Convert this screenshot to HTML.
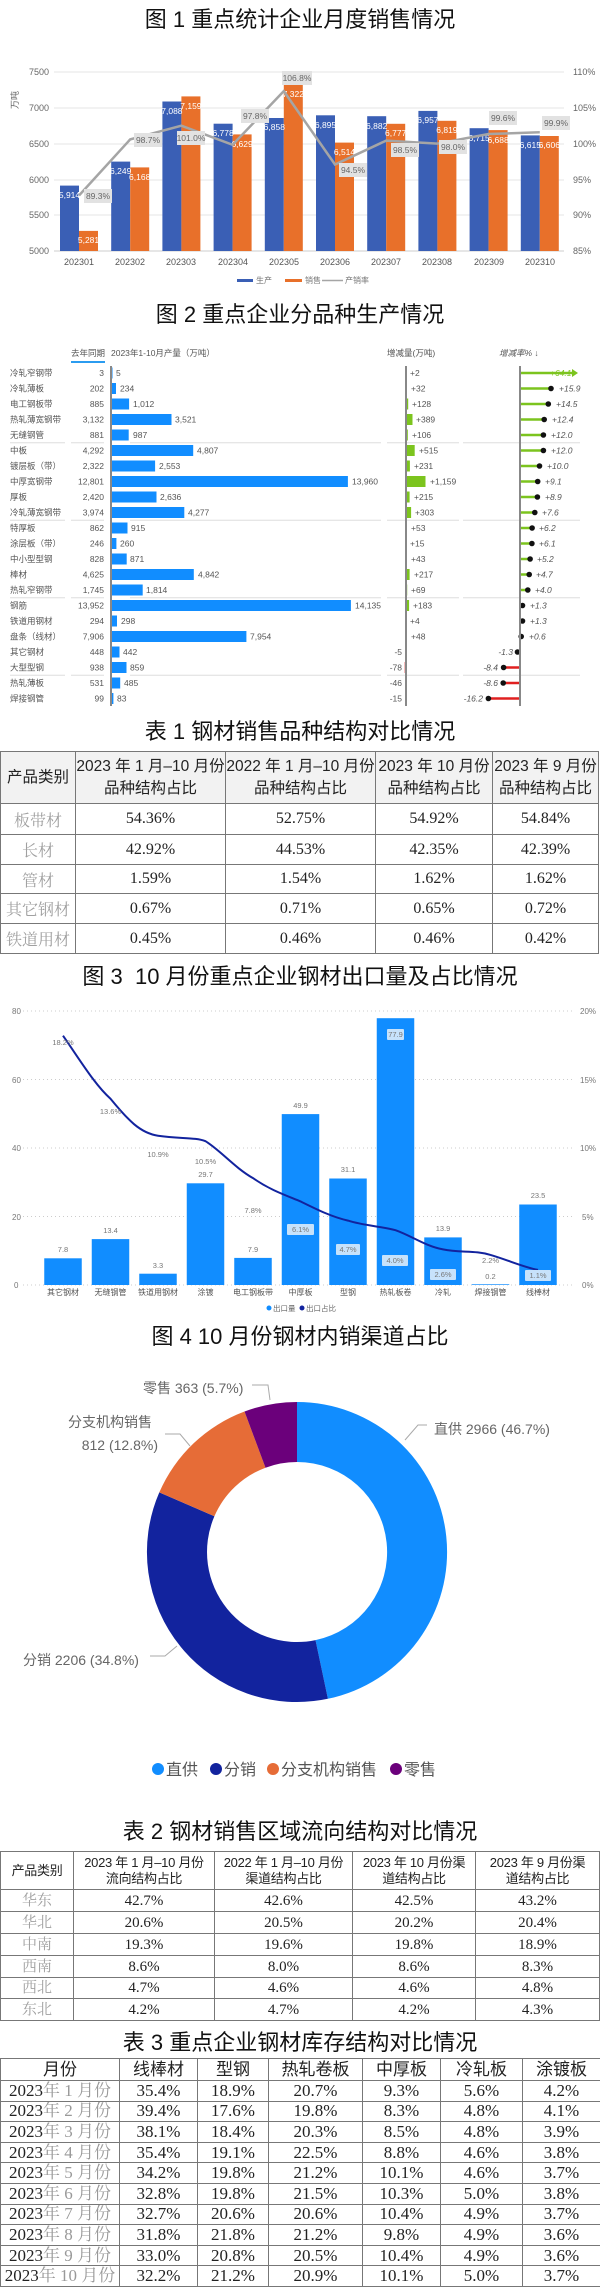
<!DOCTYPE html>
<html><head><meta charset="utf-8"><style>
*{margin:0;padding:0;box-sizing:border-box}
body{width:600px;height:2289px;position:relative;background:#fff;font-family:"Liberation Sans","Noto Sans CJK SC",sans-serif;overflow:hidden}
.t{position:absolute;left:0;width:600px;text-align:center;font-size:22px;color:#111;line-height:26px}
svg{position:absolute;left:0;top:0}
table{position:absolute;border-collapse:collapse;table-layout:fixed}
td{border:1px solid #777;text-align:center;padding:0;overflow:hidden;white-space:nowrap}
.tb1 td{font-family:"Liberation Serif","Noto Serif CJK SC",serif;font-size:16px;color:#222}
.tb1 tr:first-child td{background:#f2f2f2;font-family:"Liberation Sans","Noto Sans CJK SC",sans-serif;font-size:15.5px;line-height:22px;white-space:normal}
.g{color:#a0a0a0!important}
.tb2 td{font-family:"Liberation Serif","Noto Serif CJK SC",serif;font-size:15px;color:#222;line-height:18px}
.tb2 tr:first-child td{font-family:"Liberation Sans","Noto Sans CJK SC",sans-serif;font-size:13px;line-height:16px;white-space:nowrap;letter-spacing:-0.3px}
.tb3 td{font-family:"Liberation Serif","Noto Serif CJK SC",serif;font-size:17px;color:#222;line-height:18px}
.tb3 tr:first-child td{font-family:"Liberation Sans","Noto Sans CJK SC",sans-serif;font-size:17px}
.tb3 span{color:#999}
</style></head><body>
<div class="t" style="top:7px">图 1 重点统计企业月度销售情况</div>
<div class="t" style="top:302px">图 2 重点企业分品种生产情况</div>
<div class="t" style="top:719px">表 1 钢材销售品种结构对比情况</div>
<div class="t" style="top:964px">图 3&nbsp; 10 月份重点企业钢材出口量及占比情况</div>
<div class="t" style="top:1324px">图 4 10 月份钢材内销渠道占比</div>
<div class="t" style="top:1819px">表 2 钢材销售区域流向结构对比情况</div>
<div class="t" style="top:2030px">表 3 重点企业钢材库存结构对比情况</div>

<svg width="600" height="2289" viewBox="0 0 600 2289" font-family="Liberation Sans, Noto Sans CJK SC, sans-serif">
<!-- FIG 1 -->
<g stroke="#e6e6e6" stroke-width="1">
<line x1="54" y1="72" x2="564" y2="72"/><line x1="54" y1="108" x2="564" y2="108"/><line x1="54" y1="144" x2="564" y2="144"/><line x1="54" y1="180" x2="564" y2="180"/><line x1="54" y1="215" x2="564" y2="215"/></g>
<line x1="54" y1="251" x2="564" y2="251" stroke="#ccc"/>
<g font-size="9" fill="#666">
<text x="29" y="75">7500</text><text x="29" y="111">7000</text><text x="29" y="147">6500</text><text x="29" y="183">6000</text><text x="29" y="218">5500</text><text x="29" y="254">5000</text>
<text x="573" y="75">110%</text><text x="573" y="111">105%</text><text x="573" y="147">100%</text><text x="573" y="183">95%</text><text x="573" y="218">90%</text><text x="573" y="254">85%</text>
<text x="18" y="100" transform="rotate(-90 18 100)" font-size="9" text-anchor="middle">万吨</text>
</g>
<g fill="#3a5fb5">
<rect x="60" y="185.6" width="19" height="65.4"/><rect x="111.2" y="161.6" width="19" height="89.4"/><rect x="162.4" y="101.5" width="19" height="149.5"/><rect x="213.6" y="123.7" width="19" height="127.3"/><rect x="264.8" y="118" width="19" height="133"/><rect x="316" y="115.3" width="19" height="135.7"/><rect x="367.2" y="116.2" width="19" height="134.8"/><rect x="418.4" y="110.9" width="19" height="140.1"/><rect x="469.6" y="128.2" width="19" height="122.8"/><rect x="520.8" y="135.4" width="19" height="115.6"/></g>
<g fill="#e8702a">
<rect x="79" y="230.9" width="19" height="20.1"/><rect x="130.2" y="167.4" width="19" height="83.6"/><rect x="181.4" y="96.4" width="19" height="154.6"/><rect x="232.6" y="134.4" width="19" height="116.6"/><rect x="283.8" y="84.7" width="19" height="166.3"/><rect x="335" y="142.6" width="19" height="108.4"/><rect x="386.2" y="123.8" width="19" height="127.2"/><rect x="437.4" y="120.8" width="19" height="130.2"/><rect x="488.6" y="130.1" width="19" height="120.9"/><rect x="539.8" y="136" width="19" height="115"/></g>
<g font-size="8.5" fill="#fff" text-anchor="middle">
<text x="69.5" y="198">5,914</text><text x="120.7" y="174">6,249</text><text x="171.9" y="114">7,088</text><text x="223.1" y="136">6,778</text><text x="274.3" y="130">6,858</text><text x="325.5" y="128">6,895</text><text x="376.7" y="129">6,882</text><text x="427.9" y="123">6,957</text><text x="479.1" y="141">6,715</text><text x="530.3" y="148">6,615</text>
<text x="88.5" y="243">5,281</text><text x="139.7" y="180">6,168</text><text x="190.9" y="109">7,159</text><text x="242.1" y="147">6,629</text><text x="293.3" y="97">7,322</text><text x="344.5" y="155">6,514</text><text x="395.7" y="136">6,777</text><text x="446.9" y="133">6,819</text><text x="498.1" y="143">6,688</text><text x="549.3" y="148">6,606</text></g>
<polyline points="79,195.5 130.2,139.4 181.4,125.7 232.6,144.8 283.8,91.1 335,164.5 386.2,140.6 437.4,143.6 488.6,134 539.8,132.3" fill="none" stroke="#a5a5a5" stroke-width="2.5"/>
<g fill="#e2e2e2"><rect x="84" y="189" width="28" height="14"/><rect x="134" y="133" width="28" height="14"/><rect x="177" y="131" width="28" height="14"/><rect x="241" y="109" width="28" height="14"/><rect x="282" y="71" width="30" height="14"/><rect x="339" y="163" width="28" height="14"/><rect x="391" y="143" width="28" height="14"/><rect x="439" y="140" width="28" height="14"/><rect x="489" y="111" width="28" height="14"/><rect x="542" y="116" width="28" height="14"/></g>
<g font-size="8.5" fill="#666" text-anchor="middle">
<text x="98" y="199">89.3%</text><text x="148" y="143">98.7%</text><text x="191" y="141">101.0%</text><text x="255" y="119">97.8%</text><text x="297" y="81">106.8%</text><text x="353" y="173">94.5%</text><text x="405" y="153">98.5%</text><text x="453" y="150">98.0%</text><text x="503" y="121">99.6%</text><text x="556" y="126">99.9%</text></g>
<g font-size="9" fill="#555" text-anchor="middle">
<text x="79" y="265">202301</text><text x="130" y="265">202302</text><text x="181" y="265">202303</text><text x="233" y="265">202304</text><text x="284" y="265">202305</text><text x="335" y="265">202306</text><text x="386" y="265">202307</text><text x="437" y="265">202308</text><text x="489" y="265">202309</text><text x="540" y="265">202310</text></g>
<rect x="237" y="279" width="16" height="3" fill="#3a5fb5"/><text x="256" y="283" font-size="8" fill="#777">生产</text>
<rect x="285" y="279" width="17" height="3" fill="#e8702a"/><text x="305" y="283" font-size="8" fill="#777">销售</text>
<line x1="322" y1="280.5" x2="343" y2="280.5" stroke="#a5a5a5" stroke-width="1.5"/><text x="345" y="283" font-size="8" fill="#777">产销率</text>

<!-- FIG 2 -->
<g font-size="8.5" fill="#555">
<text x="71" y="356">去年同期</text><text x="111" y="356">2023年1-10月产量（万吨）</text><text x="387" y="356">增减量(万吨)</text><text x="499" y="356" font-style="italic">增减率% ↓</text></g>
<rect x="71" y="361" width="34" height="2" fill="#2b9cf0"/>
<g stroke="#ddd" stroke-width="1">
<line x1="10" y1="442.75" x2="65" y2="442.75"/><line x1="71" y1="442.75" x2="104" y2="442.75"/><line x1="130" y1="442.75" x2="381" y2="442.75"/><line x1="387" y1="442.75" x2="459" y2="442.75"/><line x1="463" y1="442.75" x2="580" y2="442.75"/>
<line x1="10" y1="520.25" x2="65" y2="520.25"/><line x1="71" y1="520.25" x2="104" y2="520.25"/><line x1="130" y1="520.25" x2="381" y2="520.25"/><line x1="387" y1="520.25" x2="459" y2="520.25"/><line x1="463" y1="520.25" x2="580" y2="520.25"/>
<line x1="10" y1="597.75" x2="65" y2="597.75"/><line x1="71" y1="597.75" x2="104" y2="597.75"/><line x1="130" y1="597.75" x2="381" y2="597.75"/><line x1="387" y1="597.75" x2="459" y2="597.75"/><line x1="463" y1="597.75" x2="580" y2="597.75"/>
<line x1="10" y1="675.25" x2="65" y2="675.25"/><line x1="71" y1="675.25" x2="104" y2="675.25"/><line x1="130" y1="675.25" x2="381" y2="675.25"/><line x1="387" y1="675.25" x2="459" y2="675.25"/><line x1="463" y1="675.25" x2="580" y2="675.25"/></g>
<g fill="#118dff">
<rect x="112" y="367.5" width="0.5" height="11"/><rect x="112" y="383" width="4" height="11"/><rect x="112" y="398.5" width="17.1" height="11"/><rect x="112" y="414" width="59.5" height="11"/><rect x="112" y="429.5" width="16.7" height="11"/><rect x="112" y="445" width="81.2" height="11"/><rect x="112" y="460.5" width="43.1" height="11"/><rect x="112" y="476" width="235.9" height="11"/><rect x="112" y="491.5" width="44.5" height="11"/><rect x="112" y="507" width="72.3" height="11"/><rect x="112" y="522.5" width="15.5" height="11"/><rect x="112" y="538" width="4.4" height="11"/><rect x="112" y="553.5" width="14.7" height="11"/><rect x="112" y="569" width="81.8" height="11"/><rect x="112" y="584.5" width="30.7" height="11"/><rect x="112" y="600" width="238.9" height="11"/><rect x="112" y="615.5" width="5" height="11"/><rect x="112" y="631" width="134.4" height="11"/><rect x="112" y="646.5" width="7.5" height="11"/><rect x="112" y="662" width="14.5" height="11"/><rect x="112" y="677.5" width="8.2" height="11"/><rect x="112" y="693" width="1.4" height="11"/></g>
<g fill="#7cc41e">
<rect x="406" y="383" width="0.6" height="11"/><rect x="406" y="398.5" width="2.2" height="11"/><rect x="406" y="414" width="6.5" height="11"/><rect x="406" y="429.5" width="1.8" height="11"/><rect x="406" y="445" width="8.7" height="11"/><rect x="406" y="460.5" width="3.9" height="11"/><rect x="406" y="476" width="19.5" height="11"/><rect x="406" y="491.5" width="3.6" height="11"/><rect x="406" y="507" width="5.1" height="11"/><rect x="406" y="522.5" width="0.9" height="11"/><rect x="406" y="553.5" width="0.7" height="11"/><rect x="406" y="569" width="3.6" height="11"/><rect x="406" y="584.5" width="1.2" height="11"/><rect x="406" y="600" width="3.1" height="11"/><rect x="406" y="631" width="0.8" height="11"/></g>
<g fill="#e02020"><rect x="404.7" y="662" width="1.3" height="11"/><rect x="405.2" y="677.5" width="0.8" height="11"/><rect x="405.7" y="693" width="0.3" height="11"/></g>
<g stroke="#7cc41e" stroke-width="2.5">
<line x1="520" y1="373" x2="572" y2="373"/><line x1="520" y1="388.5" x2="551" y2="388.5"/><line x1="520" y1="404" x2="548.3" y2="404"/><line x1="520" y1="419.5" x2="544.2" y2="419.5"/><line x1="520" y1="435" x2="543.4" y2="435"/><line x1="520" y1="450.5" x2="543.4" y2="450.5"/><line x1="520" y1="466" x2="539.5" y2="466"/><line x1="520" y1="481.5" x2="537.7" y2="481.5"/><line x1="520" y1="497" x2="537.4" y2="497"/><line x1="520" y1="512.5" x2="534.8" y2="512.5"/><line x1="520" y1="528" x2="532.1" y2="528"/><line x1="520" y1="543.5" x2="531.9" y2="543.5"/><line x1="520" y1="559" x2="530.1" y2="559"/><line x1="520" y1="574.5" x2="529.2" y2="574.5"/><line x1="520" y1="590" x2="527.8" y2="590"/></g>
<g stroke="#e02020" stroke-width="2.5"><line x1="503.6" y1="667.5" x2="520" y2="667.5"/><line x1="503.2" y1="683" x2="520" y2="683"/><line x1="488.4" y1="698.5" x2="520" y2="698.5"/></g>
<polygon points="572,369 578,373 572,377" fill="#7cc41e"/>
<g fill="#111">
<circle cx="551" cy="388.5" r="2.8"/><circle cx="548.3" cy="404" r="2.8"/><circle cx="544.2" cy="419.5" r="2.8"/><circle cx="543.4" cy="435" r="2.8"/><circle cx="543.4" cy="450.5" r="2.8"/><circle cx="539.5" cy="466" r="2.8"/><circle cx="537.7" cy="481.5" r="2.8"/><circle cx="537.4" cy="497" r="2.8"/><circle cx="534.8" cy="512.5" r="2.8"/><circle cx="532.1" cy="528" r="2.8"/><circle cx="531.9" cy="543.5" r="2.8"/><circle cx="530.1" cy="559" r="2.8"/><circle cx="529.2" cy="574.5" r="2.8"/><circle cx="527.8" cy="590" r="2.8"/><circle cx="522.5" cy="605.5" r="2.8"/><circle cx="522.5" cy="621" r="2.8"/><circle cx="521.2" cy="636.5" r="2.8"/><circle cx="517.5" cy="652" r="2.8"/><circle cx="503.6" cy="667.5" r="2.8"/><circle cx="503.2" cy="683" r="2.8"/><circle cx="488.4" cy="698.5" r="2.8"/></g>
<g stroke="#888" stroke-width="2"><line x1="111" y1="366" x2="111" y2="706"/><line x1="406" y1="366" x2="406" y2="706"/><line x1="520" y1="366" x2="520" y2="706"/></g>
<g font-size="8.5" fill="#555">
<text x="10" y="376">冷轧窄钢带</text><text x="10" y="391.5">冷轧薄板</text><text x="10" y="407">电工钢板带</text><text x="10" y="422.5">热轧薄宽钢带</text><text x="10" y="438">无缝钢管</text><text x="10" y="453.5">中板</text><text x="10" y="469">镀层板（带）</text><text x="10" y="484.5">中厚宽钢带</text><text x="10" y="500">厚板</text><text x="10" y="515.5">冷轧薄宽钢带</text><text x="10" y="531">特厚板</text><text x="10" y="546.5">涂层板（带）</text><text x="10" y="562">中小型型钢</text><text x="10" y="577.5">棒材</text><text x="10" y="593">热轧窄钢带</text><text x="10" y="608.5">钢筋</text><text x="10" y="624">铁道用钢材</text><text x="10" y="639.5">盘条（线材）</text><text x="10" y="655">其它钢材</text><text x="10" y="670.5">大型型钢</text><text x="10" y="686">热轧薄板</text><text x="10" y="701.5">焊接钢管</text></g>
<g font-size="8.5" fill="#555" text-anchor="end">
<text x="104" y="376">3</text><text x="104" y="391.5">202</text><text x="104" y="407">885</text><text x="104" y="422.5">3,132</text><text x="104" y="438">881</text><text x="104" y="453.5">4,292</text><text x="104" y="469">2,322</text><text x="104" y="484.5">12,801</text><text x="104" y="500">2,420</text><text x="104" y="515.5">3,974</text><text x="104" y="531">862</text><text x="104" y="546.5">246</text><text x="104" y="562">828</text><text x="104" y="577.5">4,625</text><text x="104" y="593">1,745</text><text x="104" y="608.5">13,952</text><text x="104" y="624">294</text><text x="104" y="639.5">7,906</text><text x="104" y="655">448</text><text x="104" y="670.5">938</text><text x="104" y="686">531</text><text x="104" y="701.5">99</text>
<text x="402" y="655">-5</text><text x="402" y="670.5">-78</text><text x="402" y="686">-46</text><text x="402" y="701.5">-15</text>
<text x="513" y="655" font-style="italic">-1.3</text><text x="498" y="670.5" font-style="italic">-8.4</text><text x="498" y="686" font-style="italic">-8.6</text><text x="483" y="701.5" font-style="italic">-16.2</text></g>
<g font-size="8.5" fill="#555">
<text x="116" y="376">5</text><text x="120" y="391.5">234</text><text x="133" y="407">1,012</text><text x="175" y="422.5">3,521</text><text x="133" y="438">987</text><text x="197" y="453.5">4,807</text><text x="159" y="469">2,553</text><text x="352" y="484.5">13,960</text><text x="160" y="500">2,636</text><text x="188" y="515.5">4,277</text><text x="131" y="531">915</text><text x="120" y="546.5">260</text><text x="130" y="562">871</text><text x="198" y="577.5">4,842</text><text x="146" y="593">1,814</text><text x="355" y="608.5">14,135</text><text x="121" y="624">298</text><text x="250" y="639.5">7,954</text><text x="123" y="655">442</text><text x="130" y="670.5">859</text><text x="124" y="686">485</text><text x="117" y="701.5">83</text>
<text x="410" y="376">+2</text><text x="411" y="391.5">+32</text><text x="412" y="407">+128</text><text x="416" y="422.5">+389</text><text x="412" y="438">+106</text><text x="419" y="453.5">+515</text><text x="414" y="469">+231</text><text x="430" y="484.5">+1,159</text><text x="414" y="500">+215</text><text x="415" y="515.5">+303</text><text x="411" y="531">+53</text><text x="410" y="546.5">+15</text><text x="411" y="562">+43</text><text x="414" y="577.5">+217</text><text x="411" y="593">+69</text><text x="413" y="608.5">+183</text><text x="410" y="624">+4</text><text x="411" y="639.5">+48</text></g>
<g font-size="8.5" fill="#555" font-style="italic">
<text x="550" y="376" fill="#7cc41e">+64.1</text><text x="559" y="391.5">+15.9</text><text x="556" y="407">+14.5</text><text x="552" y="422.5">+12.4</text><text x="551" y="438">+12.0</text><text x="551" y="453.5">+12.0</text><text x="547" y="469">+10.0</text><text x="545" y="484.5">+9.1</text><text x="545" y="500">+8.9</text><text x="542" y="515.5">+7.6</text><text x="539" y="531">+6.2</text><text x="539" y="546.5">+6.1</text><text x="537" y="562">+5.2</text><text x="536" y="577.5">+4.7</text><text x="535" y="593">+4.0</text><text x="530" y="608.5">+1.3</text><text x="530" y="624">+1.3</text><text x="529" y="639.5">+0.6</text></g>

<!-- FIG 3 -->
<g stroke="#ccc" stroke-dasharray="1,3"><line x1="23" y1="1011" x2="574" y2="1011"/><line x1="23" y1="1079.5" x2="574" y2="1079.5"/><line x1="23" y1="1148" x2="574" y2="1148"/><line x1="23" y1="1216.5" x2="574" y2="1216.5"/><line x1="23" y1="1285" x2="574" y2="1285"/></g>
<g font-size="8" fill="#777"><text x="12" y="1014">80</text><text x="12" y="1083">60</text><text x="12" y="1151">40</text><text x="12" y="1220">20</text><text x="14" y="1288">0</text>
<text x="580" y="1014">20%</text><text x="580" y="1083">15%</text><text x="580" y="1151">10%</text><text x="582" y="1220">5%</text><text x="582" y="1288">0%</text></g>
<g fill="#118dff">
<rect x="44.25" y="1258.3" width="37.5" height="26.7"/><rect x="91.75" y="1239.1" width="37.5" height="45.9"/><rect x="139.25" y="1273.7" width="37.5" height="11.3"/><rect x="186.75" y="1183.3" width="37.5" height="101.7"/><rect x="234.25" y="1257.9" width="37.5" height="27.1"/><rect x="281.75" y="1114.1" width="37.5" height="170.9"/><rect x="329.25" y="1178.5" width="37.5" height="106.5"/><rect x="376.75" y="1018.2" width="37.5" height="266.8"/><rect x="424.25" y="1237.4" width="37.5" height="47.6"/><rect x="471.75" y="1284.3" width="37.5" height="0.7"/><rect x="519.25" y="1204.5" width="37.5" height="80.5"/></g>
<path d="M63,1035.7 C80,1060 95,1085 110.5,1098.7 C128,1120 140,1133 158,1135.7 C180,1139 195,1137 205.5,1141.2 C220,1150 235,1168 253,1178.1 C270,1190 285,1195 300.5,1201.4 C318,1210 332,1217 348,1220.6 C365,1226 380,1226 395.5,1230.2 C412,1236 425,1246 443,1249.4 C460,1253 475,1250 490.5,1254.9 C508,1260 523,1267 538,1269.9" fill="none" stroke="#12239e" stroke-width="2"/>
<g fill="#c7e2fb"><rect x="387" y="1029" width="17" height="11" rx="1"/><rect x="287" y="1224" width="27" height="11" rx="1"/><rect x="336" y="1244" width="24" height="11" rx="1"/><rect x="382" y="1255" width="26" height="11" rx="1"/><rect x="430" y="1269" width="26" height="11" rx="1"/><rect x="525" y="1270" width="26" height="11" rx="1"/></g>
<g font-size="7.5" fill="#777" text-anchor="middle">
<text x="63" y="1252">7.8</text><text x="110.5" y="1233">13.4</text><text x="158" y="1268">3.3</text><text x="205.5" y="1177">29.7</text><text x="253" y="1252">7.9</text><text x="300.5" y="1108">49.9</text><text x="348" y="1172">31.1</text><text x="395.5" y="1037">77.9</text><text x="443" y="1231">13.9</text><text x="490.5" y="1279">0.2</text><text x="538" y="1198">23.5</text>
<text x="63" y="1045">18.2%</text><text x="110.5" y="1114">13.6%</text><text x="158" y="1157">10.9%</text><text x="205.5" y="1164">10.5%</text><text x="253" y="1213">7.8%</text><text x="300.5" y="1232">6.1%</text><text x="348" y="1252">4.7%</text><text x="395" y="1263">4.0%</text><text x="443" y="1277">2.6%</text><text x="490.5" y="1263">2.2%</text><text x="538" y="1278">1.1%</text></g>
<g font-size="8" fill="#555" text-anchor="middle"><text x="63" y="1295">其它钢材</text><text x="110.5" y="1295">无缝钢管</text><text x="158" y="1295">铁道用钢材</text><text x="205.5" y="1295">涂镀</text><text x="253" y="1295">电工钢板带</text><text x="300.5" y="1295">中厚板</text><text x="348" y="1295">型钢</text><text x="395.5" y="1295">热轧板卷</text><text x="443" y="1295">冷轧</text><text x="490.5" y="1295">焊接钢管</text><text x="538" y="1295">线棒材</text></g>
<circle cx="269" cy="1308" r="2.5" fill="#118dff"/><text x="273" y="1311" font-size="7.5" fill="#666">出口量</text><circle cx="302" cy="1308" r="2.5" fill="#12239e"/><text x="306" y="1311" font-size="7.5" fill="#666">出口占比</text>

<!-- FIG 4 -->
<path d="M297,1402 A150,150 0 0 1 327.9,1698.8 L315.5,1640.1 A90,90 0 0 0 297,1462 Z" fill="#118dff"/>
<path d="M327.9,1698.8 A150,150 0 0 1 159.3,1492.4 L214.4,1516.3 A90,90 0 0 0 315.5,1640.1 Z" fill="#12239e"/>
<path d="M159.3,1492.4 A150,150 0 0 1 244.5,1411.5 L265.5,1467.7 A90,90 0 0 0 214.4,1516.3 Z" fill="#e66c37"/>
<path d="M244.5,1411.5 A150,150 0 0 1 297,1402 L297,1462 A90,90 0 0 0 265.5,1467.7 Z" fill="#6b007b"/>
<g stroke="#aaa" fill="none" stroke-width="1"><polyline points="252,1385 268,1385 270,1400"/><polyline points="165,1434 180,1434 190,1446"/><polyline points="427,1425 418,1425 405,1440"/><polyline points="150,1656 165,1656 177,1646"/></g>
<g font-size="14" fill="#666">
<text x="143" y="1393">零售 363 (5.7%)</text><text x="68" y="1427">分支机构销售</text><text x="158" y="1450" text-anchor="end">812 (12.8%)</text><text x="434" y="1434">直供 2966 (46.7%)</text><text x="23" y="1665">分销 2206 (34.8%)</text></g>
<g font-size="16" fill="#555"><circle cx="158" cy="1769" r="6" fill="#118dff"/><text x="166" y="1775">直供</text><circle cx="216" cy="1769" r="6" fill="#12239e"/><text x="224" y="1775">分销</text><circle cx="273" cy="1769" r="6" fill="#e66c37"/><text x="281" y="1775">分支机构销售</text><circle cx="396" cy="1769" r="6" fill="#6b007b"/><text x="404" y="1775">零售</text></g>
</svg>

<table class="tb1" style="left:0;top:751px;width:598px">
<colgroup><col style="width:75px"><col style="width:150px"><col style="width:150px"><col style="width:117px"><col style="width:106px"></colgroup>
<tr style="height:52px"><td>产品类别</td><td>2023 年 1 月–10 月份<br>品种结构占比</td><td>2022 年 1 月–10 月份<br>品种结构占比</td><td>2023 年 10 月份<br>品种结构占比</td><td>2023 年 9 月份<br>品种结构占比</td></tr>
<tr style="height:31px"><td class="g">板带材</td><td>54.36%</td><td>52.75%</td><td>54.92%</td><td>54.84%</td></tr>
<tr style="height:30px"><td class="g">长材</td><td>42.92%</td><td>44.53%</td><td>42.35%</td><td>42.39%</td></tr>
<tr style="height:29px"><td class="g">管材</td><td>1.59%</td><td>1.54%</td><td>1.62%</td><td>1.62%</td></tr>
<tr style="height:30px"><td class="g">其它钢材</td><td>0.67%</td><td>0.71%</td><td>0.65%</td><td>0.72%</td></tr>
<tr style="height:30px"><td class="g">铁道用材</td><td>0.45%</td><td>0.46%</td><td>0.46%</td><td>0.42%</td></tr>
</table>

<table class="tb2" style="left:0;top:1851px;width:599px">
<colgroup><col style="width:73px"><col style="width:141px"><col style="width:138px"><col style="width:123px"><col style="width:124px"></colgroup>
<tr style="height:38px"><td>产品类别</td><td>2023 年 1 月–10 月份<br>流向结构占比</td><td>2022 年 1 月–10 月份<br>渠道结构占比</td><td>2023 年 10 月份渠<br>道结构占比</td><td>2023 年 9 月份渠<br>道结构占比</td></tr>
<tr style="height:22px"><td class="g">华东</td><td>42.7%</td><td>42.6%</td><td>42.5%</td><td>43.2%</td></tr>
<tr style="height:22px"><td class="g">华北</td><td>20.6%</td><td>20.5%</td><td>20.2%</td><td>20.4%</td></tr>
<tr style="height:22px"><td class="g">中南</td><td>19.3%</td><td>19.6%</td><td>19.8%</td><td>18.9%</td></tr>
<tr style="height:22px"><td class="g">西南</td><td>8.6%</td><td>8.0%</td><td>8.6%</td><td>8.3%</td></tr>
<tr style="height:21px"><td class="g">西北</td><td>4.7%</td><td>4.6%</td><td>4.6%</td><td>4.8%</td></tr>
<tr style="height:22px"><td class="g">东北</td><td>4.2%</td><td>4.7%</td><td>4.2%</td><td>4.3%</td></tr>
</table>

<table class="tb3" style="left:0;top:2058px;width:600px">
<colgroup><col style="width:119px"><col style="width:78px"><col style="width:71px"><col style="width:94px"><col style="width:78px"><col style="width:82px"><col style="width:78px"></colgroup>
<tr style="height:22px"><td>月份</td><td>线棒材</td><td>型钢</td><td>热轧卷板</td><td>中厚板</td><td>冷轧板</td><td>涂镀板</td></tr>
<tr style="height:20.6px"><td>2023<span>年 1 月份</span></td><td>35.4%</td><td>18.9%</td><td>20.7%</td><td>9.3%</td><td>5.6%</td><td>4.2%</td></tr>
<tr style="height:20.6px"><td>2023<span>年 2 月份</span></td><td>39.4%</td><td>17.6%</td><td>19.8%</td><td>8.3%</td><td>4.8%</td><td>4.1%</td></tr>
<tr style="height:20.6px"><td>2023<span>年 3 月份</span></td><td>38.1%</td><td>18.4%</td><td>20.3%</td><td>8.5%</td><td>4.8%</td><td>3.9%</td></tr>
<tr style="height:20.6px"><td>2023<span>年 4 月份</span></td><td>35.4%</td><td>19.1%</td><td>22.5%</td><td>8.8%</td><td>4.6%</td><td>3.8%</td></tr>
<tr style="height:20.6px"><td>2023<span>年 5 月份</span></td><td>34.2%</td><td>19.8%</td><td>21.2%</td><td>10.1%</td><td>4.6%</td><td>3.7%</td></tr>
<tr style="height:20.6px"><td>2023<span>年 6 月份</span></td><td>32.8%</td><td>19.8%</td><td>21.5%</td><td>10.3%</td><td>5.0%</td><td>3.8%</td></tr>
<tr style="height:20.6px"><td>2023<span>年 7 月份</span></td><td>32.7%</td><td>20.6%</td><td>20.6%</td><td>10.4%</td><td>4.9%</td><td>3.7%</td></tr>
<tr style="height:20.6px"><td>2023<span>年 8 月份</span></td><td>31.8%</td><td>21.8%</td><td>21.2%</td><td>9.8%</td><td>4.9%</td><td>3.6%</td></tr>
<tr style="height:20.6px"><td>2023<span>年 9 月份</span></td><td>33.0%</td><td>20.8%</td><td>20.5%</td><td>10.4%</td><td>4.9%</td><td>3.6%</td></tr>
<tr style="height:20.6px"><td>2023<span>年 10 月份</span></td><td>32.2%</td><td>21.2%</td><td>20.9%</td><td>10.1%</td><td>5.0%</td><td>3.7%</td></tr>
</table>
</body></html>
